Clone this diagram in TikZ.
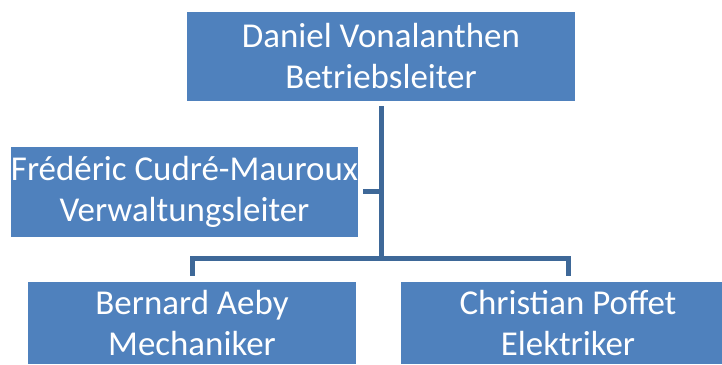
\documentclass[tikz,border=0pt]{standalone}
\usepackage{fontspec}
\setmainfont{Carlito}
\usepackage{xcolor}
\usepackage{tikz}
\definecolor{orgfill}{RGB}{79,129,189}
\definecolor{orgline}{RGB}{62,104,152}

\begin{document}
\begin{tikzpicture}[x=1pt,y=1pt,
  orgbox/.style={fill=orgfill, text=white, inner sep=0pt, align=center,
    minimum height=89pt, font=\fontsize{34.9}{41}\selectfont},
  orgconn/.style={draw=orgline, line width=5pt}]
\clip (0,0) rectangle (722,364);

% Betriebsleiter
\node[orgbox, minimum width=388pt] (boss) at (381,307.5) {Daniel Vonalanthen\\Betriebsleiter};

% Verwaltung (assistant)
\node[orgbox, minimum width=347pt, minimum height=90pt] (admin) at (184.5,172) {Frédéric Cudré-Mauroux\\Verwaltungsleiter};

% Mechanik und Elektrik
\node[orgbox, minimum width=328pt, minimum height=82pt] (mech) at (192,41) {Bernard Aeby\\Mechaniker};
\node[orgbox, minimum width=334pt, minimum height=82pt] (elec) at (568,41) {Christian Poffet\\Elektriker};

% connectors
\coordinate (split) at (boss.south |- 0,105.5);
\draw[orgconn] ([yshift=-5pt]boss.south) -- (split);
\draw[orgconn] ([xshift=5pt]admin.east) -- (admin.east -| boss.south);
\draw[orgconn] ([yshift=6pt]mech.north) |- (split) -| ([yshift=6pt]elec.north);
\end{tikzpicture}
\end{document}
